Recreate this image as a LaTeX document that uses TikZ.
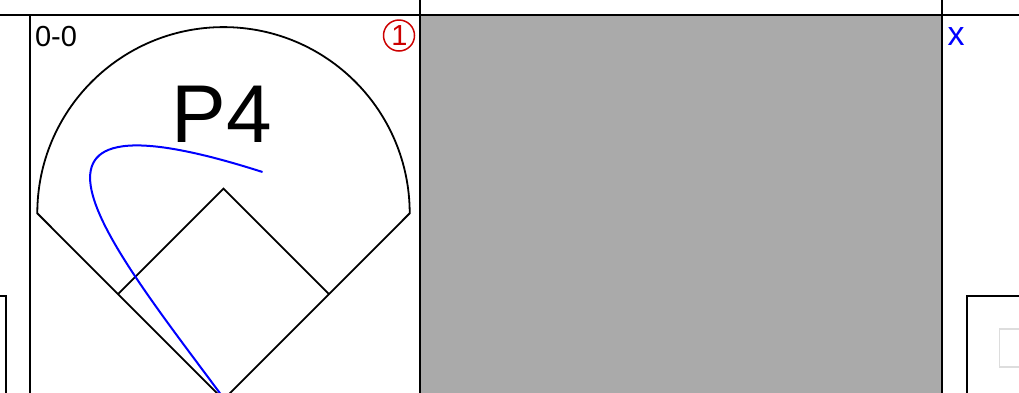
\documentclass[tikz,border=0pt]{standalone}
\usepackage{fontspec}
\setmainfont{Liberation Sans}
\begin{document}
\begin{tikzpicture}[x=1pt,y=-1pt,
  gridline/.style={draw=black,line width=2pt},
  fieldline/.style={draw=black,line width=1.8pt,line join=miter},
  hitline/.style={draw=blue,line width=2pt},
  lbl/.style={inner sep=0pt,outer sep=0pt}]
\useasboundingbox (0,0) rectangle (1019,392);
\clip (0,0) rectangle (1019,392);
% gray cell
\fill[fill={rgb,255:red,170;green,170;blue,170}] (420,15) rectangle (942,400);
% grid
\draw[gridline] (-5,15) -- (1025,15);
\draw[gridline] (29.5,15) -- (29.5,400);
\draw[gridline] (420,-5) -- (420,400);
\draw[gridline] (942,-5) -- (942,400);
% side boxes
\draw[gridline] (-10,296) -- (6,296) -- (6,400);
\draw[gridline] (967,400) -- (967,296) -- (1030,296);
\draw[draw={rgb,255:red,221;green,221;blue,221},line width=1.2pt] (1030,329) -- (999.5,329) -- (999.5,367) -- (1030,367);
% field
\coordinate (home) at (223.5,399.7);
\coordinate (lf) at (37.3,213.3);
\coordinate (rf) at (409.7,213.3);
\coordinate (first) at (329,294.2);
\coordinate (second) at (223.5,188.7);
\coordinate (third) at (118,294.2);
\draw[fieldline] (home) -- (lf) arc[start angle=180,end angle=360,radius=186.2] -- cycle;
\draw[fieldline] (third) -- (second) -- (first);
% hit
\coordinate (hs) at (262.5,172);
\coordinate (he) at (225,400);
\draw[hitline] (hs) .. controls (-30,78.4) and (114.5,250.5) .. (he);
% labels
\node[lbl,anchor=center,font=\fontsize{82}{86}\selectfont] (pos) at (221.5,114) {P4};
\node[lbl,anchor=base west,font=\fontsize{29}{32}\selectfont] (count) at (35,46) {0-0};
\node[draw={rgb,255:red,204;green,0;blue,0},line width=1.5pt,circle,minimum size=31pt,inner sep=0pt] (outc) at (399,35.5) {};
\node[lbl,text={rgb,255:red,204;green,0;blue,0},font=\fontsize{29}{32}\selectfont] (outn) at (399.5,35.5) {1};
\node[lbl,anchor=base west,text=blue,font=\fontsize{34}{36}\selectfont] (mark) at (947.5,45.5) {x};
\end{tikzpicture}
\end{document}
